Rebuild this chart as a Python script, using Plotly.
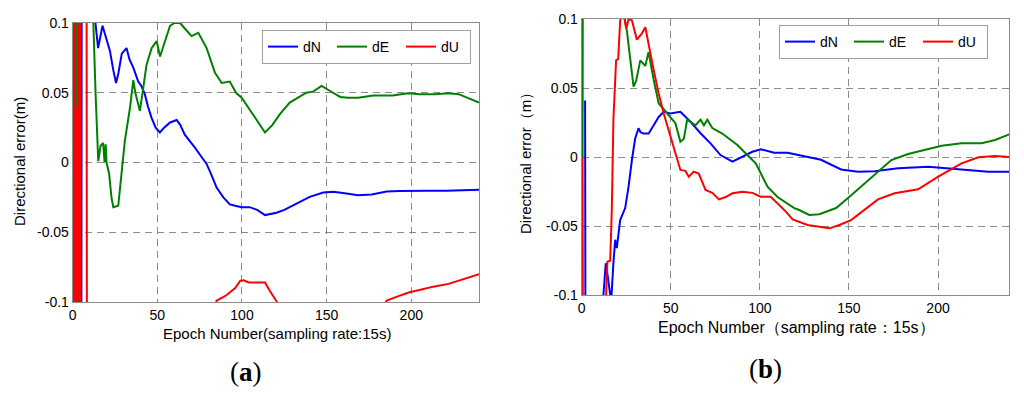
import plotly.graph_objects as go

# ---- panel (a) ----
a_dn_x = [0, 0.5, 1, 3, 5, 5.5, 8, 11, 13, 15, 17.6, 20, 22, 24, 25.6, 27, 29, 31.8, 33.5, 35.8, 38.7, 40.5, 42.6, 44.5, 46.6,
          49, 51.5, 54, 57.5, 61.4, 63.5, 66.2, 69, 72.2, 75.5, 79.1, 82, 85, 89, 92.8, 96, 99.8, 104.6, 109, 113.6,
          120.4, 125, 130, 135, 140, 148, 154, 161.7, 168.6, 176.6, 185.5, 193, 200, 210, 220.8, 230, 240]
a_dn_y = [0.4, -0.4, -0.3, -0.35, -0.3, 0.4, 0.3, 0.2, 0.105, 0.082, 0.098, 0.088, 0.080, 0.066, 0.057, 0.064, 0.078, 0.082,
          0.074, 0.068, 0.058, 0.055, 0.049, 0.040, 0.032, 0.025, 0.0215, 0.025, 0.0287, 0.0305, 0.027, 0.020, 0.016,
          0.0107, 0.005, -0.001, -0.009, -0.018, -0.025, -0.030, -0.031, -0.032, -0.032, -0.034, -0.0377,
          -0.036, -0.034, -0.031, -0.028, -0.0246, -0.0215, -0.021, -0.0222, -0.0234, -0.023, -0.0208, -0.0205,
          -0.0203, -0.0203, -0.0203, -0.0200, -0.0195]

a_de_x = [0, 0.6, 1.2, 1.8, 2.5, 3, 6, 10, 12.2, 13.5, 15.1, 16.5, 18, 18.8, 19.5, 20, 21.5, 23, 24, 26.9, 28, 30.8, 33.8,
          35.8, 37, 39.7, 41.5, 43.6, 46.6, 49.6, 51.6, 54.5, 57.5, 60, 63.4, 67, 70.2, 74.2, 79.1, 84, 88, 92.8,
          96.5, 99.8, 105.6, 113.6, 118, 122.4, 128.2, 134, 138, 142, 147, 153.8, 158, 162.7, 168.6, 177.6, 189,
          198, 205, 214, 221.8, 228, 232.6, 240]
a_de_y = [0.033, 0.3, -0.2, 0.3, -0.2, 0.3, 0.25, 0.15, 0.1, 0.05, 0.001, 0.012, 0.014, 0.0, 0.013, 0.0, -0.008, -0.026,
          -0.032, -0.031, -0.018, 0.0155, 0.039, 0.059, 0.05, 0.037, 0.052, 0.070, 0.082, 0.087, 0.076, 0.087, 0.098,
          0.100, 0.100, 0.095, 0.0906, 0.093, 0.082, 0.0644, 0.057, 0.058, 0.050, 0.0465, 0.0358, 0.0215, 0.027,
          0.0346, 0.043, 0.047, 0.050, 0.0508, 0.0549, 0.050, 0.047, 0.0465, 0.0465, 0.048, 0.048, 0.0496, 0.049,
          0.049, 0.0496, 0.049, 0.0465, 0.043]

# dense swings in the first epochs (off scale both ways)
a_du_x = [0, 0.1, 0.2, 0.3, 0.4, 0.5, 0.6, 0.7, 0.8, 0.9, 1.0, 1.1, 1.2, 1.3, 1.4, 1.5, 1.6, 1.7, 1.8, 1.9, 2.0,
          2.1, 2.2, 2.3, 2.4, 2.5, 2.6, 2.7, 2.8, 2.9, 3.0, 3.1, 3.2, 3.3, 3.4, 3.5, 3.6, 3.7, 3.8, 3.9, 4.0,
          4.1, 4.2, 4.3, 4.4, 4.5, 4.6, 4.7, 6, 8, 8.6, 20, 50, 75,
          83, 85, 88, 91, 94, 96, 99, 101, 104, 108.6, 113.6, 116.4, 120.4, 123, 150, 180, 185.5, 192, 199, 206,
          213, 222, 230.7, 240]
a_du_y = [-0.3, 0.04, -0.4, 0.02, -0.4, 0.03, -0.4, 0.04, -0.4, 0.02, -0.4, 0.03, -0.4, 0.4, -0.4, 0.02, -0.4,
          0.04, -0.4, 0.02, -0.4, 0.03, -0.4, 0.02, -0.4, 0.04, -0.4, 0.02, -0.4, 0.03, -0.4, 0.02, -0.4, 0.4,
          -0.4, 0.03, -0.4, 0.02, -0.4, 0.04, -0.4, 0.02, -0.4, 0.03, -0.4, 0.02, -0.4, 0.4, 0.4, 0.4, -0.4, -0.3,
          -0.2, -0.15,
          -0.11, -0.099, -0.097, -0.095, -0.092, -0.090, -0.0848, -0.0845, -0.086,
          -0.086, -0.086, -0.0919, -0.0995, -0.11, -0.13, -0.11, -0.099, -0.096, -0.093, -0.091, -0.089, -0.087,
          -0.0835, -0.080]

# ---- panel (b) ----
b_dn_x = [1.9, 2.4, 5, 10, 12.2, 13.5, 14.7, 16, 16.5, 17.8, 18.8, 19.7, 21.6, 24.4, 26.3, 28.2, 30, 31.9, 33, 34.7,
          37.6, 40.4, 43.2, 46, 49.8, 52, 55.4, 61, 66.7, 72.3, 77.9, 84.6, 90.2, 95.8, 100.5, 108, 115.6, 123,
          134.3, 145.6, 155, 164.4, 177.6, 194.5, 211.4, 228.3, 240]
b_dn_y = [0.041, -0.4, -0.3, -0.2, -0.1, -0.077, -0.087, -0.1, -0.105, -0.077, -0.060, -0.066, -0.0457, -0.037,
          -0.0215, -0.002, 0.0135, 0.0208, 0.018, 0.017, 0.017, 0.023, 0.029, 0.0328, 0.0316, 0.032, 0.0328,
          0.0256, 0.0172, 0.0099, 0.0014, -0.0034, 0.0002, 0.0038, 0.0056, 0.0031, 0.0031, 0.0012, -0.002, -0.009,
          -0.0106, -0.0103, -0.0082, -0.007, -0.009, -0.0106, -0.0106]

b_de_x = [0.5, 1, 10, 20, 23.5, 25.4, 27.2, 29.1, 30.5, 32.9, 35.7, 37.5, 40.4, 43.2, 47.9, 49.8, 52.6, 55.4, 57.3,
          59.2, 63.9, 66.7, 68.6, 70.5, 73.3, 78.9, 83.6, 87.4, 93, 97.7, 100.5, 104.3, 109.9, 115.6, 119.3, 122.1,
          127.7, 133.4, 142.8, 150.3, 156.9, 165.3, 173.8, 183.2, 192.6, 202, 213.2, 224.5, 232, 240]
b_de_y = [0.0, 0.5, 0.3, 0.15, 0.105, 0.091, 0.070, 0.051, 0.055, 0.070, 0.066, 0.076, 0.056, 0.039, 0.0317, 0.029,
          0.0245, 0.011, 0.013, 0.027, 0.023, 0.027, 0.023, 0.027, 0.021, 0.017, 0.0123, 0.0087, 0.0014, -0.0046,
          -0.0118, -0.0215, -0.029, -0.0335, -0.037, -0.0384, -0.042, -0.0415, -0.037, -0.0288, -0.0215, -0.0118,
          -0.0022, 0.0022, 0.005, 0.0082, 0.0099, 0.010, 0.0123, 0.0164]

b_du_x = [0.5, 1.2, 8, 13, 13.7, 14.4, 16, 16.9, 17.8, 19.3, 20.5, 21.6, 23.5, 25, 26.3, 28.2, 31, 33.8, 35.7, 37.5,
          40.4, 43.2, 46, 49.8, 52.6, 55.4, 58.2, 60.1, 62.9, 65.7, 69.5, 73.3, 77, 80.8, 84.6, 90.2, 95.8, 100.5,
          106.1, 109.9, 114.6, 118.4, 123, 126.8, 139, 144.6, 151.2, 158.7, 166.3, 175.6, 188.8, 200.1, 213.2,
          222.7, 232, 240]
b_du_y = [0.0, -0.5, -0.3, -0.12, -0.1, -0.076, -0.075, -0.0384, 0.027, 0.070, 0.071, 0.099, 0.104, 0.093, 0.1, 0.099,
          0.085, 0.0896, 0.094, 0.081, 0.063, 0.046, 0.0317, 0.015, 0.0027, -0.0094, -0.010, -0.0143, -0.0106,
          -0.012, -0.0239, -0.026, -0.0307, -0.029, -0.0263, -0.0251, -0.026, -0.0288, -0.0288, -0.0335, -0.0396,
          -0.0452, -0.0476, -0.0493, -0.0517, -0.0493, -0.0457, -0.0384, -0.0307, -0.0263, -0.0234, -0.0143,
          -0.0046, -0.0002, 0.0007, 0.0]

x_ticks = [0, 50, 100, 150, 200]
y_ticks = [-0.1, -0.05, 0, 0.05, 0.1]
y_labels = ["-0.1", "-0.05", "0", "0.05", "0.1"]

BLUE, GREEN, RED = "#0000ff", "#008000", "#ff0000"
FONT = "Liberation Sans, Arial, sans-serif"

# page body adds an 8px margin, so the figure is a bit smaller than the window
OFF = 8
W, H = 1024 - 2 * OFF, 398 - 2 * OFF


def px(x):
    return (x - OFF) / W


def py(y):
    return 1 - (y - OFF) / H


fig = go.Figure()
series = [
    ("a", "dN", a_dn_x, a_dn_y, BLUE), ("a", "dE", a_de_x, a_de_y, GREEN), ("a", "dU", a_du_x, a_du_y, RED),
    ("b", "dN", b_dn_x, b_dn_y, BLUE), ("b", "dE", b_de_x, b_de_y, GREEN), ("b", "dU", b_du_x, b_du_y, RED),
]
for panel, name, xs, ys, col in series:
    fig.add_trace(go.Scatter(
        x=xs, y=ys, name=name, mode="lines",
        line=dict(color=col, width=2),
        xaxis="x" if panel == "a" else "x2",
        yaxis="y" if panel == "a" else "y2",
        legend="legend" if panel == "a" else "legend2",
    ))

axis_style = dict(
    showline=True, mirror=True, linecolor="#8c8c8c", linewidth=1,
    showgrid=True, gridcolor="#8c8c8c", griddash="7px,5px", gridwidth=1,
    zeroline=False, ticks="", tickfont=dict(family=FONT, size=14, color="black"),
)
legend_style = dict(
    orientation="h", xanchor="left", yanchor="top", entrywidth=24,
    bgcolor="white", bordercolor="#a0a0a0", borderwidth=1,
    font=dict(family=FONT, size=14, color="black"),
)

fig.update_layout(
    width=W, height=H,
    margin=dict(l=0, r=0, t=0, b=0, autoexpand=False),
    paper_bgcolor="white", plot_bgcolor="white",
    xaxis=dict(domain=[px(72.7), px(479)], range=[0, 240], tickvals=x_ticks, anchor="y", **axis_style),
    yaxis=dict(domain=[py(302), py(23)], range=[-0.1, 0.1], tickvals=y_ticks, ticktext=y_labels, anchor="x",
               **axis_style),
    xaxis2=dict(domain=[px(581.7), px(1009.3)], range=[0, 240], tickvals=x_ticks, anchor="y2", **axis_style),
    yaxis2=dict(domain=[py(295), py(19)], range=[-0.1, 0.1], tickvals=y_ticks, ticktext=y_labels, anchor="x2",
                **axis_style),
    legend=dict(x=px(262), y=py(30), **legend_style),
    legend2=dict(x=px(779), y=py(25), **legend_style),
)

notes = [
    (277, 333, "Epoch Number(sampling rate:15s)", 0, 15),
    (20, 162, "Directional error(m)", -90, 15),
    (796, 327, "Epoch Number（sampling rate：15s）", 0, 16),
    (525, 160, "Directional error（m）", -90, 15),
]
for x, y, text, ang, size in notes:
    fig.add_annotation(x=px(x), y=py(y), xref="paper", yref="paper", xanchor="center", yanchor="middle",
                       text=text, textangle=ang, showarrow=False,
                       font=dict(family=FONT, size=size, color="black"))

for x, y, text in [(246, 372, "(<b>a</b>)"), (765, 369, "(<b>b</b>)")]:
    fig.add_annotation(x=px(x), y=py(y), xref="paper", yref="paper", xanchor="center", yanchor="middle",
                       text=text, showarrow=False,
                       font=dict(family="Liberation Serif, Times New Roman, serif", size=27, color="black"))

fig.write_html("out.html")
